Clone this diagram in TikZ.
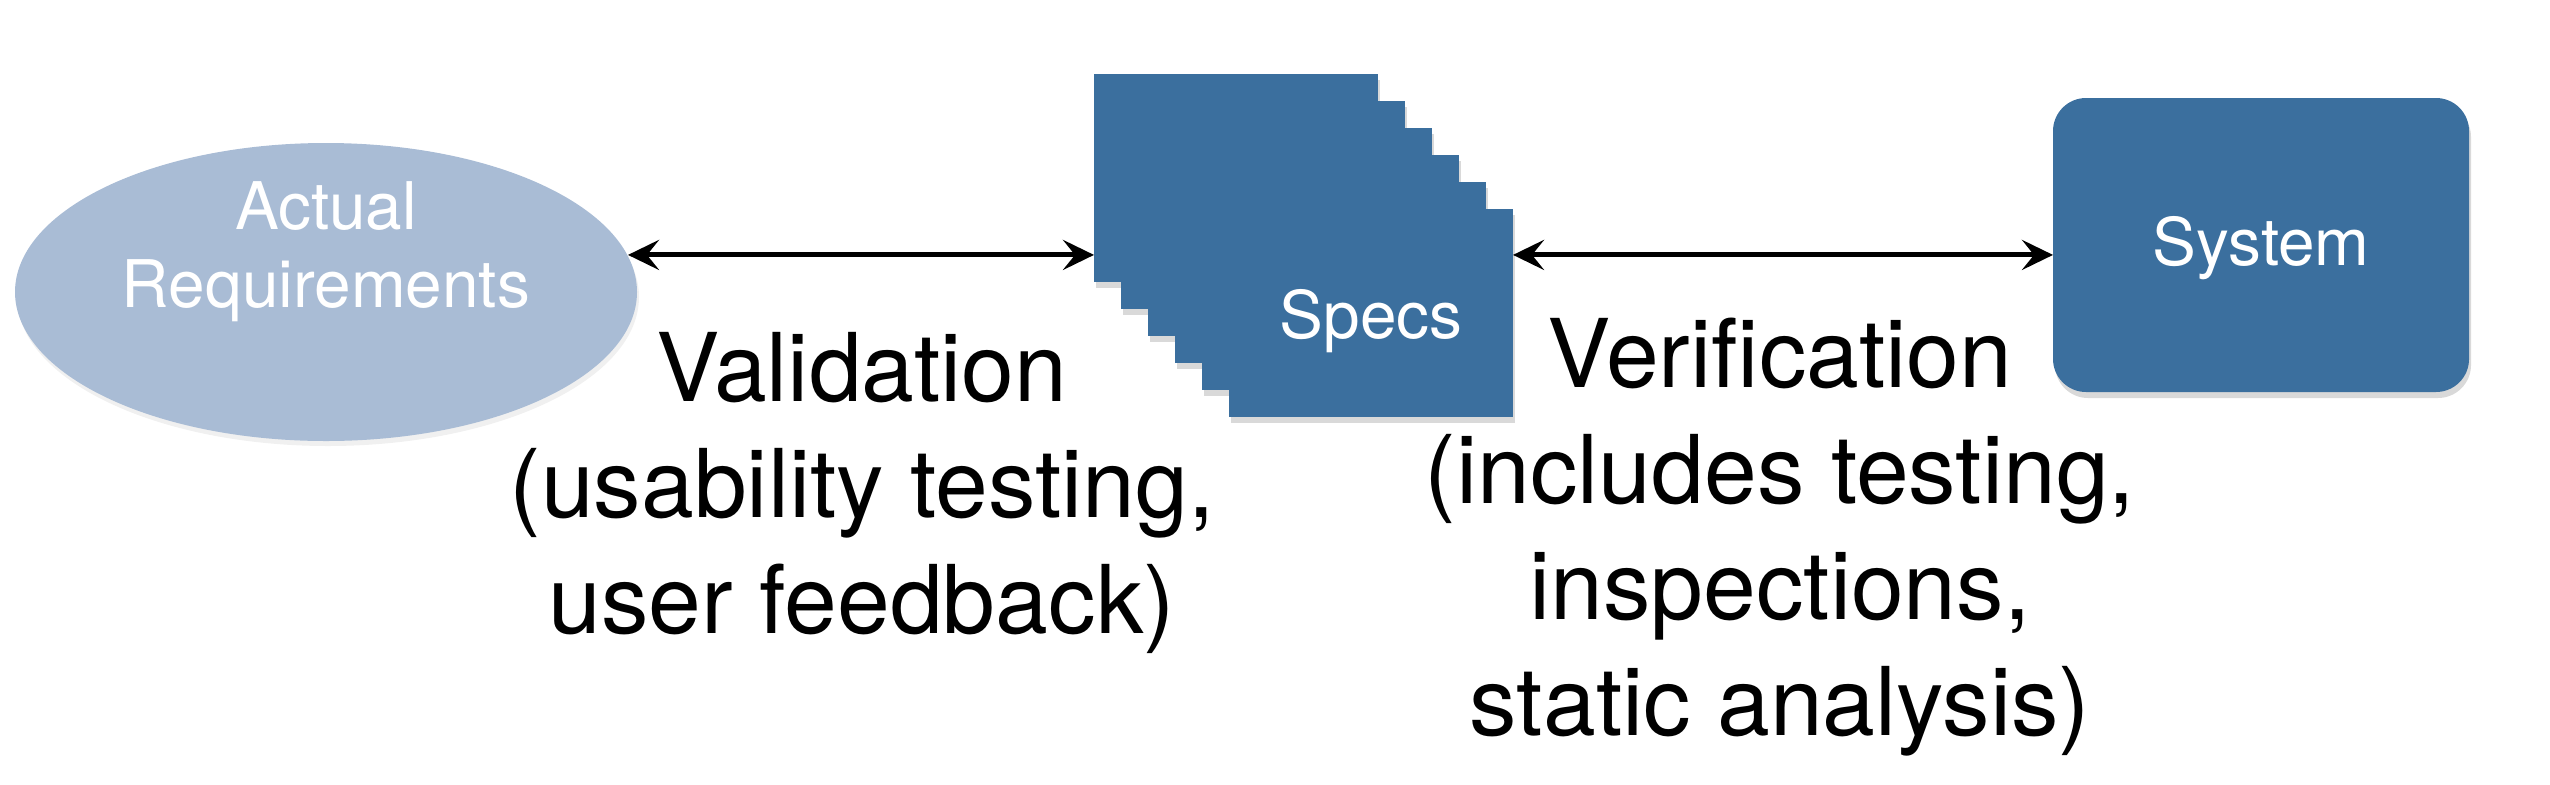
\documentclass[tikz,border=0pt]{standalone}
\usepackage{fontspec}
\setmainfont{TeX Gyre Heros}
\usepackage{tikz}
\usetikzlibrary{arrows.meta,positioning,shapes,shadows,calc}

\definecolor{reqblue}{RGB}{169,188,213}
\definecolor{cardblue}{RGB}{59,111,158}

\tikzset{
  req/.style = {ellipse, fill=reqblue, minimum width=62.2mm, minimum height=29.8mm, inner sep=0pt,
    drop shadow={opacity=0.12, shadow xshift=0.2mm, shadow yshift=-0.5mm}},
  card/.style = {fill=cardblue, minimum width=28.4mm, minimum height=20.8mm, inner sep=0pt, outer sep=0pt,
    anchor=north west, drop shadow={opacity=0.3, shadow xshift=0.2mm, shadow yshift=-0.6mm}},
  sysbox/.style = {fill=cardblue, rounded corners=3.3mm, minimum width=41.6mm, minimum height=29.4mm,
    inner sep=0pt, outer sep=0pt, text=white, font=\fontsize{18.7}{22.2}\selectfont,
    text depth=0.9mm, drop shadow={opacity=0.3, shadow xshift=0.2mm, shadow yshift=-0.6mm}},
  small/.style = {text=white, font=\fontsize{18.7}{22.2}\selectfont, align=center},
  big/.style = {font=\fontsize{27}{33}\selectfont, align=center, anchor=base}
}

\begin{document}
\begin{tikzpicture}[x = 0.1mm, y = -0.1mm, >={Stealth[length=3.1mm, width=3mm, inset=1.2mm]}]
  \useasboundingbox (0,0) rectangle (2550,784);
  \node[req] (req) at (326,292) {};
  \node[small] (reqtext) at (326,252) {Actual\\Requirements};
  % stack of spec sheets, back to front
  \foreach \i in {0,...,5}
    \node[card] (sheet\i) at ({1094+27*\i},{74+27*\i}) {};
  \node[small] (specs) at ([yshift=-0.8mm]sheet5.center) {Specs};
  \node[sysbox] (system) at (2261,245) {System};
  \draw[<->, line width = 1.4pt] (req.7) -- (req.7 -| sheet0.west);
  \draw[<->, line width = 1.4pt] (sheet5.east |- req.7) -- (system.west |- req.7);
  % base anchor sits on the last line
  \node[big] (valid) at (862,633) {Validation\\(usability testing,\\user feedback)};
  \node[big] (verif) at (1780,735) {Verification\\(includes testing,\\inspections,\\static analysis)};
\end{tikzpicture}
\end{document}
